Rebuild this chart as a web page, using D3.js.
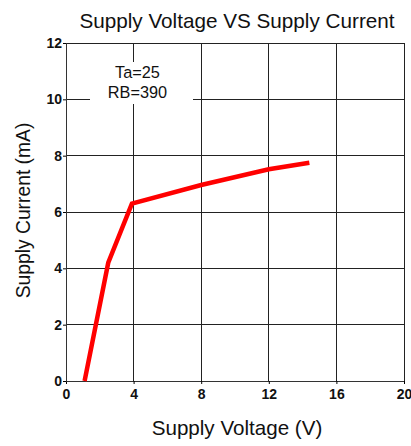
<!DOCTYPE html>
<html>
<head>
<meta charset="utf-8">
<script src="https://cdn.jsdelivr.net/npm/d3@7"></script>
<style>
  body { margin: 0; background: #fff; }
  text { font-family: "Liberation Sans", Arial, sans-serif; }
</style>
</head>
<body>
<div id="chart"></div>
<script>
// curve
var voltage = [1.1, 2.5, 3.9, 8, 12, 14.4];
var current = [0, 4.2, 6.3, 6.96, 7.52, 7.75];
var xTicks = [0, 4, 8, 12, 16, 20];
var yTicks = [0, 2, 4, 6, 8, 10, 12];
var noteLines = ["Ta=25", "RB=390"];

var w = 411, h = 446;
// plot edges (note: "top" is a reserved window property, so use other names)
var plotLeft = 66, plotRight = 404, plotTop = 43, plotBottom = 381;

var svg = d3.select("#chart").append("svg")
    .attr("width", w)
    .attr("height", h);

var x = d3.scaleLinear().domain([0, 20]).range([plotLeft, plotRight]);
var y = d3.scaleLinear().domain([0, 12]).range([plotBottom, plotTop]);

// grid
svg.append("g").selectAll("line")
    .data(xTicks)
    .enter().append("line")
    .attr("x1", function(d) { return x(d); })
    .attr("x2", function(d) { return x(d); })
    .attr("y1", y(0)).attr("y2", y(12))
    .attr("stroke", "#222").attr("stroke-width", 1)
    .attr("shape-rendering", "crispEdges");

svg.append("g").selectAll("line")
    .data(yTicks)
    .enter().append("line")
    .attr("y1", function(d) { return y(d); })
    .attr("y2", function(d) { return y(d); })
    .attr("x1", x(0)).attr("x2", x(20))
    .attr("stroke", "#222").attr("stroke-width", 1)
    .attr("shape-rendering", "crispEdges");

// note box covers the grid behind it
svg.append("rect")
    .attr("x", 90).attr("y", 62)
    .attr("width", 103).attr("height", 42)
    .attr("fill", "#fff");

svg.append("g").selectAll("text")
    .data(noteLines)
    .enter().append("text")
    .attr("x", 137.5)
    .attr("y", function(d, i) { return 78 + i * 19.5; })
    .attr("text-anchor", "middle")
    .attr("font-size", 16.3)
    .attr("fill", "#111")
    .text(function(d) { return d; });

// axes
var xAxis = d3.axisBottom(x).tickValues(xTicks).tickSize(3).tickPadding(5);
var yAxis = d3.axisLeft(y).tickValues(yTicks).tickSize(3).tickPadding(1);

svg.append("g")
    .attr("transform", "translate(0," + plotBottom + ")")
    .call(xAxis)
    .call(function(g) {
        g.select(".domain").attr("stroke", "#333");
        g.selectAll("text").attr("font-size", 14).attr("font-weight", "bold")
            .attr("fill", "#111").style("font-family", "Liberation Sans, Arial, sans-serif");
    });

svg.append("g")
    .attr("transform", "translate(" + plotLeft + ",0)")
    .call(yAxis)
    .call(function(g) {
        g.select(".domain").attr("stroke", "#333");
        g.selectAll("text").attr("font-size", 14).attr("font-weight", "bold")
            .attr("fill", "#111").style("font-family", "Liberation Sans, Arial, sans-serif");
    });

// curve
var pts = voltage.map(function(v, i) { return [v, current[i]]; });
svg.append("path")
    .datum(pts)
    .attr("fill", "none")
    .attr("stroke", "#ff0000")
    .attr("stroke-width", 4.5)
    .attr("stroke-linejoin", "miter")
    .attr("d", d3.line()
        .x(function(d) { return x(d[0]); })
        .y(function(d) { return y(d[1]); }));

// titles
svg.append("text")
    .attr("x", 237).attr("y", 27.5)
    .attr("text-anchor", "middle")
    .attr("font-size", 20.7)
    .attr("fill", "#111")
    .text("Supply Voltage VS Supply Current");

svg.append("text")
    .attr("x", 237).attr("y", 435)
    .attr("text-anchor", "middle")
    .attr("font-size", 20.6)
    .attr("fill", "#111")
    .text("Supply Voltage (V)");

svg.append("text")
    .attr("transform", "translate(30,210.5) rotate(-90)")
    .attr("text-anchor", "middle")
    .attr("font-size", 19.3)
    .attr("fill", "#111")
    .text("Supply Current (mA)");
</script>
</body>
</html>
